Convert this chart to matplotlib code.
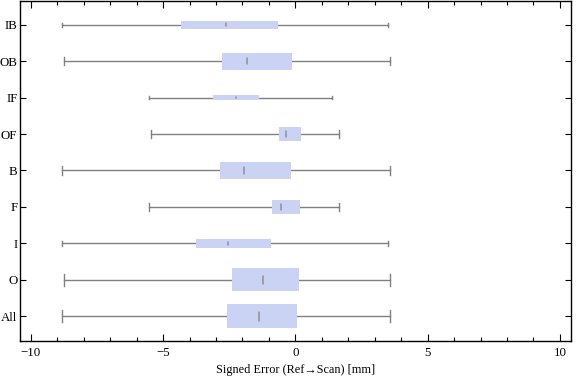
import matplotlib
matplotlib.use("Agg")
import matplotlib.pyplot as plt
from matplotlib.ticker import MultipleLocator

categories = ["All", "O", "I", "F", "B", "OF", "IF", "OB", "IB"]
whisker_low = [-8.82, -8.74, -8.82, -5.53, -8.82, -5.44, -5.53, -8.74, -8.82]
q1 = [-2.59, -2.40, -3.76, -0.89, -2.85, -0.62, -3.12, -2.78, -4.33]
median = [-1.39, -1.22, -2.54, -0.54, -1.96, -0.37, -2.25, -1.82, -2.63]
q3 = [0.08, 0.13, -0.93, 0.17, -0.17, 0.21, -1.38, -0.11, -0.64]
whisker_high = [3.56, 3.56, 3.49, 1.66, 3.56, 1.66, 1.37, 3.56, 3.49]
box_height = [0.66, 0.63, 0.25, 0.40, 0.49, 0.40, 0.12, 0.465, 0.22]

box_color = "#cbd3f5"
line_color = "#808080"
med_color = "#909090"

plt.rcParams["font.family"] = ["Liberation Serif", "DejaVu Serif"]

fig = plt.figure(figsize=(5.76, 3.81), dpi=100)
ax = fig.add_axes([0.0352, 0.105, 0.9561, 0.8935])

for i, cat in enumerate(categories):
    y = i + 1
    h = box_height[i]
    ax.plot([whisker_low[i], q1[i]], [y, y], color=line_color, lw=1.0, zorder=1)
    ax.plot([q3[i], whisker_high[i]], [y, y], color=line_color, lw=1.0, zorder=1)
    for xv in (whisker_low[i], whisker_high[i]):
        ax.plot([xv, xv], [y - h / 4, y + h / 4], color=line_color, lw=1.0, zorder=1)
    ax.barh(y, q3[i] - q1[i], left=q1[i], height=h, color=box_color,
            edgecolor="none", zorder=2)
    ax.plot([median[i], median[i]], [y - h * 0.18, y + h * 0.18], color=med_color,
            lw=1.1, solid_capstyle="round", zorder=3)

ax.set_xlim(-10.4, 10.42)
ax.set_ylim(0.324, 9.66)
ax.set_yticks(range(1, len(categories) + 1))
ax.set_yticklabels(categories)
ax.xaxis.set_major_locator(MultipleLocator(5))
ax.xaxis.set_minor_locator(MultipleLocator(1))
ax.tick_params(axis="both", which="both", direction="in", top=True, right=True,
               labelsize=9.3, width=0.8)
ax.tick_params(axis="x", which="major", length=5, pad=4)
ax.tick_params(axis="x", which="minor", length=3)
ax.tick_params(axis="y", which="major", length=4, pad=2)
ax.set_xticks([-10, -5, 0, 5, 10])
ax.set_xticklabels(["\u221210", "\u22125", "0", "5", "10"])
for s in ax.spines.values():
    s.set_linewidth(1.0)
ax.set_xlabel("Signed Error (Ref\u2192Scan) [mm]", fontsize=8.8, labelpad=4)

fig.savefig("out.png", dpi=100)
